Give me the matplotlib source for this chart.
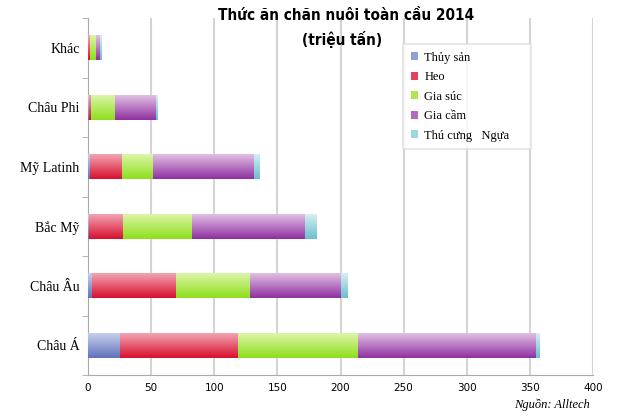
import matplotlib
matplotlib.use("Agg")
import matplotlib.pyplot as plt
import numpy as np
from matplotlib.colors import LinearSegmentedColormap

categories = ["Châu Á", "Châu Âu", "Bắc Mỹ", "Mỹ Latinh", "Châu Phi", "Khác"]
series_names = ["Thủy sản", "Heo", "Gia súc", "Gia cầm", "Thú cưng   Ngựa"]
thuy_san = [25, 3, 1, 1.6, 0.5, 0.3]
heo = [94, 67, 27, 25.6, 1.5, 1]
gia_suc = [94.6, 58.6, 54.6, 24.3, 19, 5]
gia_cam = [141, 71.6, 89, 80, 33, 3]
thu_cung = [2.5, 5, 9, 4.7, 1.5, 0.8]
series = [thuy_san, heo, gia_suc, gia_cam, thu_cung]
colors = ["#8fa2d4", "#e5405c", "#b2e650", "#b26cbd", "#9fd7e0"]
dark = ["#6272bb", "#d8102e", "#8ede1c", "#9030a0", "#6cbfd0"]
light = ["#c6d0ec", "#f2a4b2", "#dcf6a8", "#e0c0e4", "#d4eff2"]
xticks = [0, 50, 100, 150, 200, 250, 300, 350, 400]

fig = plt.figure(figsize=(6.4, 4.17), dpi=100)
ax = fig.add_axes([88/640, 1 - 375/417, 505/640, 357/417])

y = np.arange(len(categories))
left = np.zeros(len(categories))
grad = np.linspace(0, 1, 64).reshape(-1, 1)
for name, vals, c, d, l in zip(series_names, series, colors, dark, light):
    bars = ax.barh(y, vals, left=left, height=0.42, color=c, label=name, zorder=3,
                   linewidth=0)
    cmap = LinearSegmentedColormap.from_list(name, [d, l])
    for p in bars.patches:
        x0, y0, w, h = p.get_x(), p.get_y(), p.get_width(), p.get_height()
        ax.imshow(grad, extent=[x0, x0 + w, y0, y0 + h], origin="lower",
                  aspect="auto", cmap=cmap, zorder=3.5, interpolation="bilinear")
    left += np.array(vals)

ax.set_xlim(0, 400)
ax.set_ylim(-0.5, len(categories) - 0.5)
ax.set_xticks(xticks)
ax.set_xticklabels([str(t) for t in xticks], fontsize=7.5, family="DejaVu Sans")
ax.set_yticks(y)
ax.set_yticklabels(categories, fontsize=10, family="Liberation Serif")
ax.set_yticks(np.arange(-0.5, len(categories), 1), minor=True)
ax.tick_params(axis="y", which="major", length=0, pad=6)
ax.tick_params(axis="y", which="minor", length=4, color="#aaaaaa")
ax.tick_params(axis="x", length=0, pad=6)
ax.grid(axis="x", color="#d4d4d4", linewidth=1.5, zorder=0)
for s in ["top", "right"]:
    ax.spines[s].set_visible(False)
ax.spines["left"].set_color("#aaaaaa")
ax.spines["bottom"].set_color("#aaaaaa")

leg = ax.legend(loc="upper left", bbox_to_anchor=(403/640, 1 - 150/417, 128/640, 106/417),
                mode="expand",
                bbox_transform=fig.transFigure, prop={"family": "Liberation Serif", "size": 9},
                handlelength=0.6, handleheight=0.6, frameon=True, fancybox=False,
                labelspacing=0.6, borderpad=0.6, handletextpad=0.5, borderaxespad=0)
leg.get_frame().set_edgecolor("#dddddd")
leg.get_frame().set_linewidth(1.2)
leg.set_zorder(5)

fig.text(346/640, 1 - 16/417, "Thức ăn chăn nuôi toàn cầu 2014", ha="center", va="center",
         fontsize=11, fontweight="bold", fontstretch="condensed", family="DejaVu Sans")
fig.text(342/640, 1 - 39/417, "(triệu tấn)", ha="center", va="center",
         fontsize=11, fontweight="bold", fontstretch="condensed", family="DejaVu Sans")
fig.text(590/640, 1 - 405/417, "Nguồn: Alltech", ha="right", va="center",
         fontsize=9, style="italic", family="Liberation Serif")

fig.savefig("out.png", dpi=100)
